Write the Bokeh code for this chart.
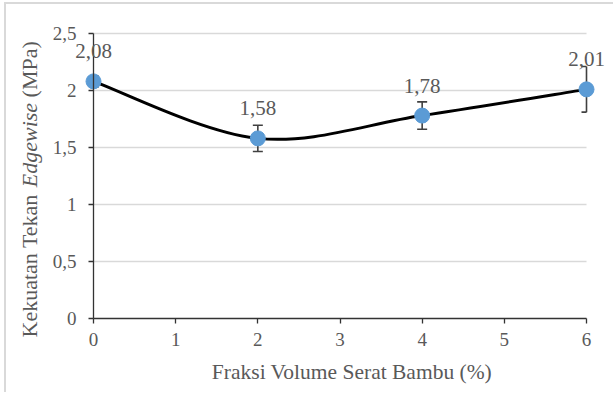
import math
from bokeh.plotting import figure
from bokeh.models import Range1d, FixedTicker, ColumnDataSource, Label, LabelSet
from bokeh.embed import file_html
from bokeh.resources import INLINE

# data
fraksi = [0, 2, 4, 6]
kekuatan = [2.08, 1.58, 1.78, 2.01]
galat = [0.05, 0.115, 0.12, 0.20]
label_nilai = ["2,08", "1,58", "1,78", "2,01"]
x_ticks = [0, 1, 2, 3, 4, 5, 6]
y_ticks = [0, 0.5, 1, 1.5, 2, 2.5]
y_tick_labels = ["0", "0,5", "1", "1,5", "2", "2,5"]
x_title = "Fraksi Volume Serat Bambu (%)"
y_title_parts = ["Kekuatan Tekan", "Edgewise", "(MPa)"]
y_title_styles = ["normal", "italic", "normal"]

FONT = "Liberation Serif"
GREY = "#595959"
AXC = "#333333"

# canvas placement (page px) and plot-area geometry (page px)
CANVAS_X, CANVAS_Y, CANVAS_W, CANVAS_H = 6, 4, 609, 390
AREA_L, AREA_R, AREA_T, AREA_B = 93, 586, 33, 318
X_MIN, X_MAX, Y_MIN, Y_MAX = 0, 6, 0, 2.5
PX_PER_X = (AREA_R - AREA_L) / (X_MAX - X_MIN)
PX_PER_Y = (AREA_B - AREA_T) / (Y_MAX - Y_MIN)

def dx(px):
    return X_MIN + (px - AREA_L) / PX_PER_X

def dy(py):
    return Y_MIN + (AREA_B - py) / PX_PER_Y

p = figure(width=CANVAS_W, height=CANVAS_H, output_backend="svg", toolbar_location=None,
           x_range=Range1d(dx(CANVAS_X), dx(CANVAS_X + CANVAS_W)),
           y_range=Range1d(dy(CANVAS_Y + CANVAS_H), dy(CANVAS_Y)),
           min_border_left=0, min_border_right=0, min_border_top=0, min_border_bottom=0,
           styles={"margin-left": "4px", "margin-top": "2px",
                   "border-left": "2px solid #d9d9d9", "border-top": "2px solid #d9d9d9"})
p.outline_line_color = None
p.background_fill_color = "white"
p.border_fill_color = "white"
p.xgrid.grid_line_color = None
p.ygrid.grid_line_color = None

# horizontal gridlines limited to the plot area
p.segment(x0=[X_MIN] * (len(y_ticks) - 1), x1=[X_MAX] * (len(y_ticks) - 1),
          y0=y_ticks[1:], y1=y_ticks[1:], line_color="#d9d9d9", line_width=1.5)

p.xaxis.ticker = FixedTicker(ticks=x_ticks)
p.xaxis.bounds = (X_MIN, X_MAX)
p.xaxis.fixed_location = Y_MIN
p.yaxis.ticker = FixedTicker(ticks=y_ticks)
p.yaxis.bounds = (Y_MIN, Y_MAX)
p.yaxis.fixed_location = X_MIN
p.yaxis.major_label_overrides = {t: s for t, s in zip(y_ticks, y_tick_labels)}
for ax in (p.xaxis, p.yaxis):
    ax.axis_line_color = AXC
    ax.axis_line_width = 1.3
    ax.major_tick_line_color = AXC
    ax.major_tick_line_width = 1.3
    ax.major_tick_out = 5
    ax.major_tick_in = 0
    ax.minor_tick_line_color = None
    ax.major_label_text_font = FONT
    ax.major_label_text_font_size = "19px"
    ax.major_label_text_color = GREY
p.yaxis.major_label_standoff = 12
p.xaxis.major_label_standoff = 9

# smoothed curve (Catmull-Rom style bezier through the data points)
n = len(fraksi)
x0s, y0s, x1s, y1s, cx0s, cy0s, cx1s, cy1s = [], [], [], [], [], [], [], []
for i in range(n - 1):
    pm = max(i - 1, 0)
    pp = min(i + 2, n - 1)
    x0s.append(fraksi[i]); y0s.append(kekuatan[i])
    x1s.append(fraksi[i + 1]); y1s.append(kekuatan[i + 1])
    cx0s.append(fraksi[i] + (fraksi[i + 1] - fraksi[pm]) / 6)
    cy0s.append(kekuatan[i] + (kekuatan[i + 1] - kekuatan[pm]) / 6)
    cx1s.append(fraksi[i + 1] - (fraksi[pp] - fraksi[i]) / 6)
    cy1s.append(kekuatan[i + 1] - (kekuatan[pp] - kekuatan[i]) / 6)

# error bars (caps cut at the plot-area edges like the original)
lo = [v - e for v, e in zip(kekuatan, galat)]
hi = [v + e for v, e in zip(kekuatan, galat)]
cap = 5 / PX_PER_X
EBC = "#404040"
p.segment(x0=fraksi, x1=fraksi, y0=lo, y1=hi, line_color=EBC, line_width=1.6)
cx_a = [max(x - cap, X_MIN) for x in fraksi]
cx_b = [min(x + cap, X_MAX) for x in fraksi]
p.segment(x0=cx_a + cx_a, x1=cx_b + cx_b, y0=lo + hi, y1=lo + hi, line_color=EBC, line_width=1.6)

p.bezier(x0=x0s, y0=y0s, x1=x1s, y1=y1s, cx0=cx0s, cy0=cy0s, cx1=cx1s, cy1=cy1s,
         line_color="black", line_width=3)

src = ColumnDataSource(dict(x=fraksi, y=kekuatan, lab=label_nilai))
p.scatter(x="x", y="y", source=src, size=15, fill_color="#5b9bd5", line_color="#5b9bd5")

p.add_layout(LabelSet(x="x", y="y", text="lab", source=src, text_font=FONT,
                      text_font_size="21px", text_color=GREY, text_align="center",
                      text_baseline="alphabetic", y_offset=23))

# axis titles
p.add_layout(Label(x=dx(351.5), y=dy(371), text=x_title, text_font=FONT,
                   text_font_size="21.5px", text_color=GREY,
                   text_align="center", text_baseline="alphabetic"))
fs = 22
# advance of each piece in em (Times metrics), including the following space
advance_em = [6.581 + 0.25, 3.833 + 0.25, 2.61]
ypix = 337
for txt, style, em in zip(y_title_parts, y_title_styles, advance_em):
    p.add_layout(Label(x=dx(29), y=dy(ypix), angle=math.pi / 2,
                       text=txt, text_font=FONT, text_font_style=style,
                       text_font_size=f"{fs}px", text_color=GREY,
                       text_align="left", text_baseline="alphabetic"))
    ypix -= em * fs

open("out.html", "w").write(file_html(p, INLINE))
